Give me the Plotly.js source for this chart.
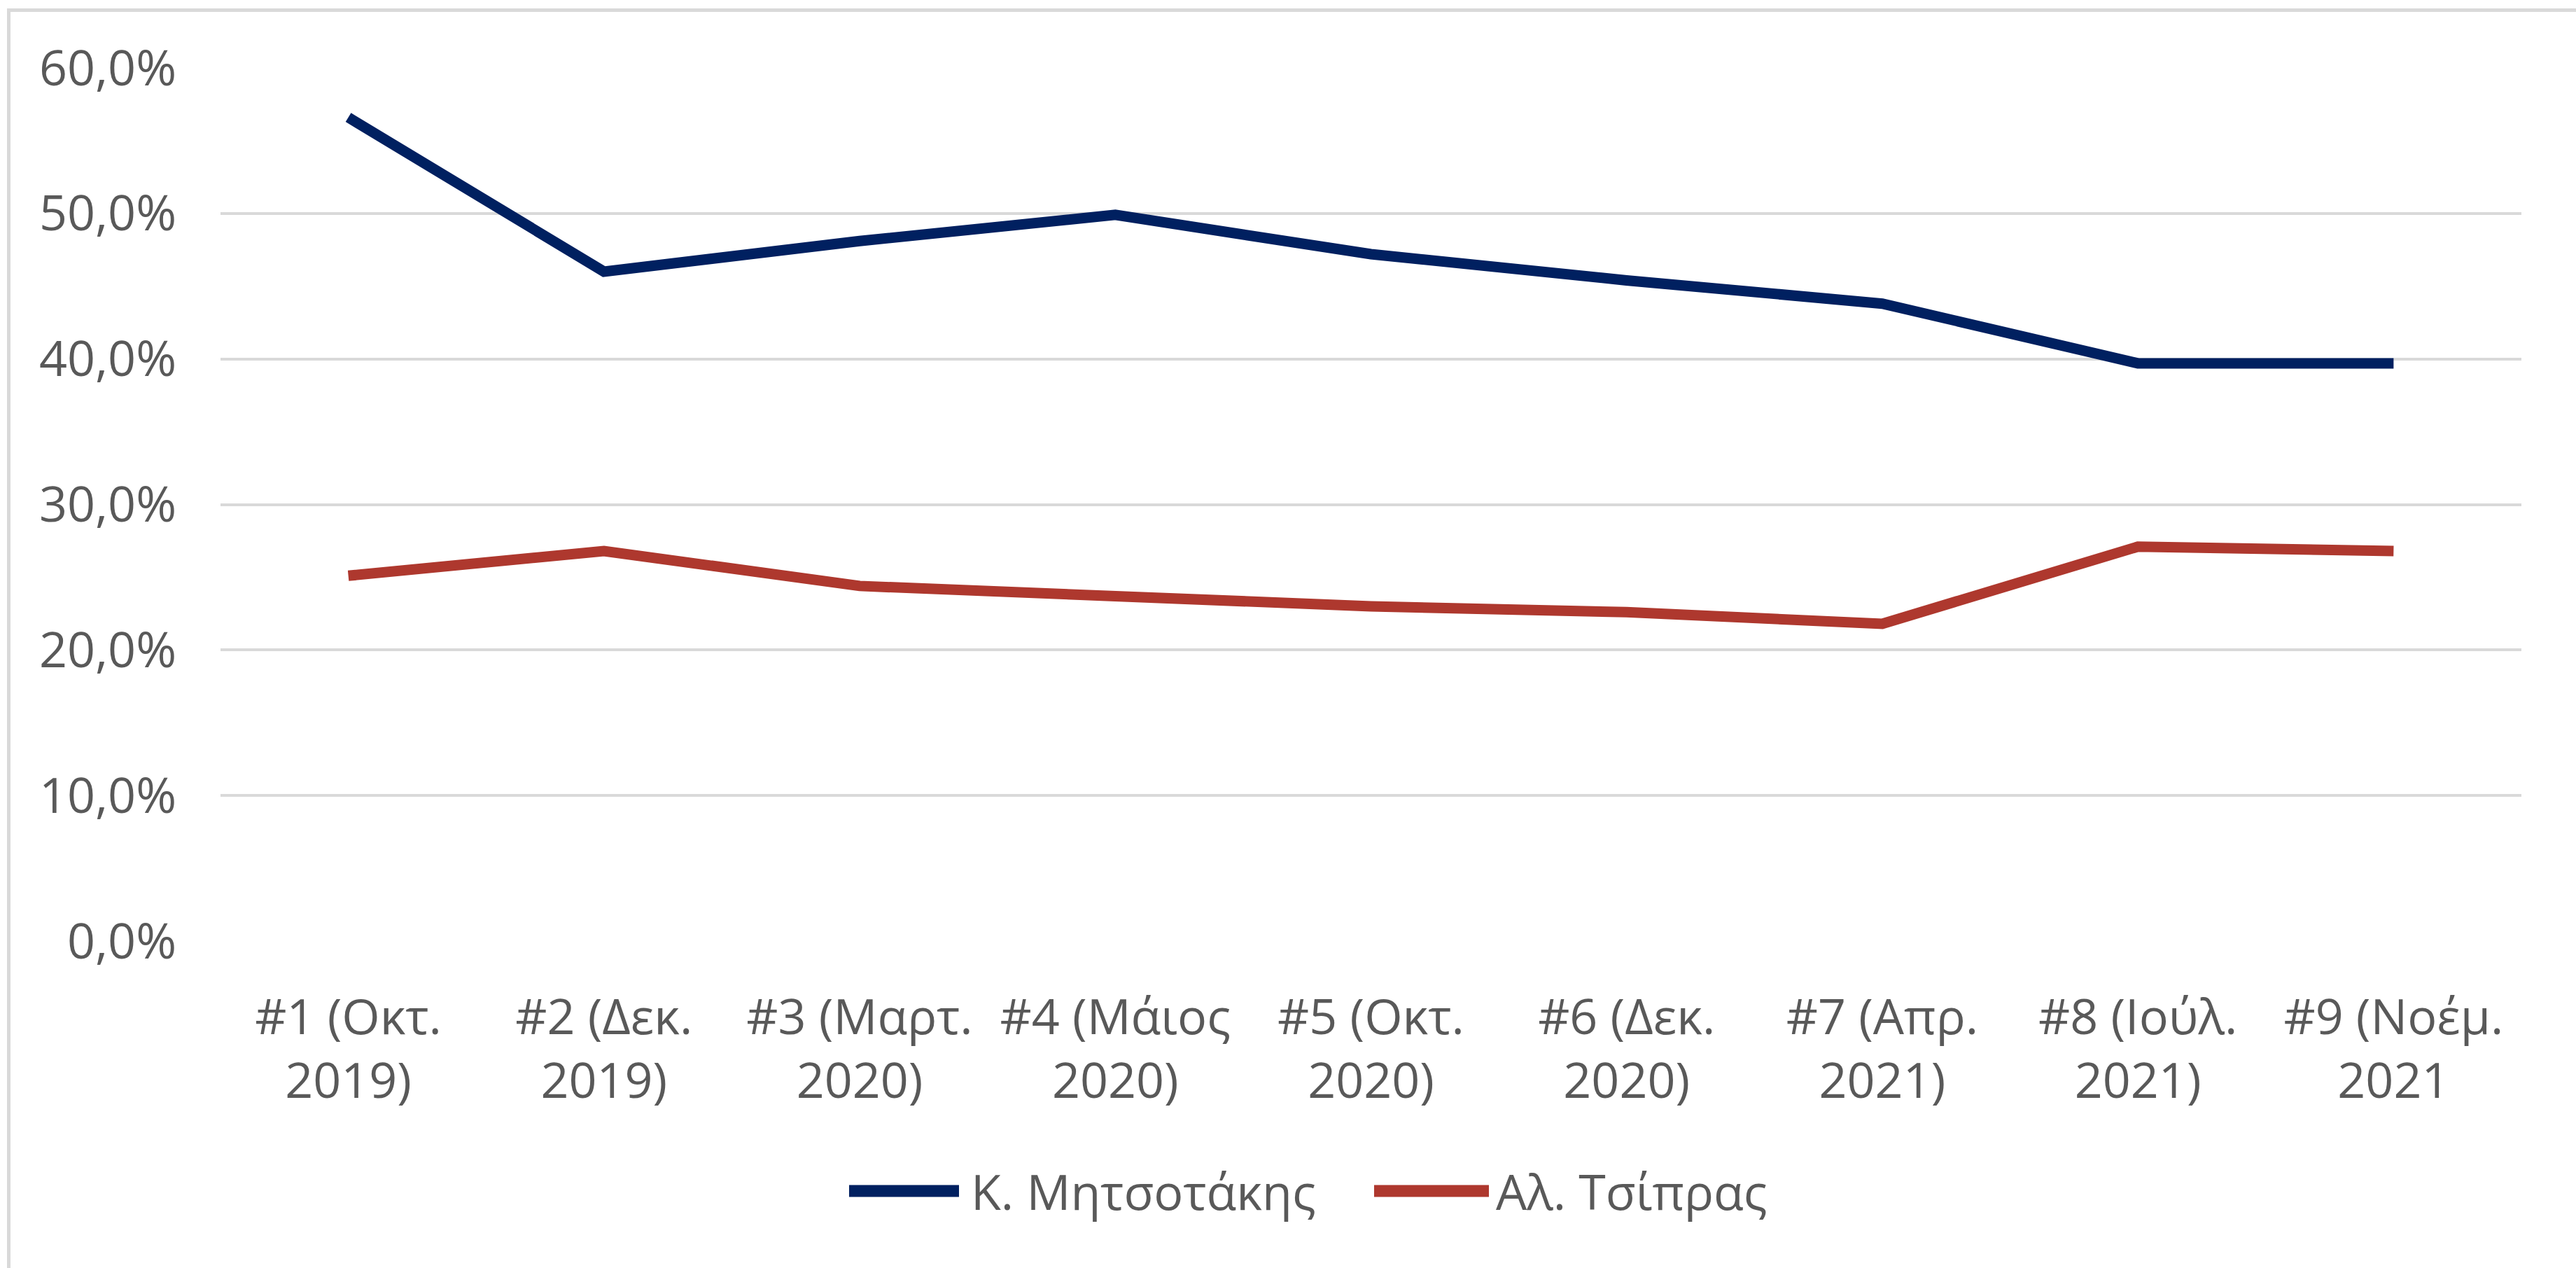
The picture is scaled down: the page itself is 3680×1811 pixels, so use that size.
<!DOCTYPE html>
<html>
<head>
<meta charset="utf-8">
<script src="https://cdn.plot.ly/plotly-3.0.1.min.js"></script>
<style>html,body{margin:0;padding:0;background:#fff;}#chart{width:3680px;height:1811px;}</style>
</head>
<body>
<div id="chart"></div>
<script>
// Data
const categories = ['#1 (Οκτ.<br>2019)', '#2 (Δεκ.<br>2019)', '#3 (Μαρτ.<br>2020)', '#4 (Μάιος<br>2020)', '#5 (Οκτ.<br>2020)', '#6 (Δεκ.<br>2020)', '#7 (Απρ.<br>2021)', '#8 (Ιούλ.<br>2021)', '#9 (Νοέμ.<br>2021'];
const seriesNames = ['Κ. Μητσοτάκης', 'Αλ. Τσίπρας'];
const mitsotakis = [56.6, 46.0, 48.1, 49.9, 47.2, 45.4, 43.8, 39.7, 39.7];
const tsipras = [25.1, 26.8, 24.4, 23.7, 23.0, 22.6, 21.8, 27.1, 26.8];
const yTicks = [0, 10, 20, 30, 40, 50, 60];
const yTickLabels = ['0,0%', '10,0%', '20,0%', '30,0%', '40,0%', '50,0%', '60,0%'];

const colors = ['#002060', '#AE382E'];
const textColor = '#595959';
const fontFamily = '"Open Sans", "Noto Sans", "DejaVu Sans", sans-serif';

const W = 3680, H = 1811;
const mL = 315, mR = 78, mT = 97, mB = 467;
const pw = W - mL - mR, ph = H - mT - mB;
const px = x => (x - mL) / pw;
const py = y => (H - mB - y) / ph;

const traces = [mitsotakis, tsipras].map((vals, i) => ({
  type: 'scatter',
  mode: 'lines',
  x: categories,
  y: vals,
  name: seriesNames[i],
  line: {color: colors[i], width: 15},
  showlegend: false,
  hoverinfo: 'skip'
}));

// custom legend (long swatches like the reference)
const legY = py(1701);
const legendItems = [
  {x0: 1213, x1: 1370, tx: 1386},
  {x0: 1963, x1: 2127, tx: 2136}
];
const shapes = [
  {type: 'rect', xref: 'paper', yref: 'paper', x0: px(12.5), x1: px(3720), y0: py(14.5), y1: py(1850),
   line: {color: '#D9D9D9', width: 5}, fillcolor: 'rgba(0,0,0,0)', layer: 'below'}
];
const annotations = [];
legendItems.forEach((it, i) => {
  shapes.push({type: 'line', xref: 'paper', yref: 'paper', x0: px(it.x0), x1: px(it.x1), y0: legY, y1: legY,
    line: {color: colors[i], width: 17}});
  annotations.push({xref: 'paper', yref: 'paper', x: px(it.tx), y: legY, xanchor: 'left', yanchor: 'middle',
    text: seriesNames[i], showarrow: false, borderpad: 0,
    font: {family: fontFamily, size: 70, color: textColor}});
});

const layout = {
  width: W, height: H,
  margin: {l: mL, r: mR, t: mT, b: mB, pad: 0},
  paper_bgcolor: '#ffffff',
  plot_bgcolor: '#ffffff',
  showlegend: false,
  separators: ',.',
  font: {family: fontFamily, size: 70, color: textColor},
  xaxis: {
    type: 'category',
    categoryarray: categories,
    range: [-0.5, categories.length - 0.5],
    showgrid: false, zeroline: false, showline: false,
    ticks: '', ticklabelstandoff: 62,
    tickfont: {family: fontFamily, size: 70, color: textColor},
    fixedrange: true
  },
  yaxis: {
    range: [0, 60],
    tickmode: 'array',
    tickvals: yTicks,
    ticktext: yTickLabels,
    showgrid: true, gridcolor: '#D9D9D9', gridwidth: 4,
    zeroline: false, showline: false,
    ticks: '', ticklabelstandoff: 62,
    tickfont: {family: fontFamily, size: 70, color: textColor},
    fixedrange: true
  },
  shapes: shapes,
  annotations: annotations
};

Plotly.newPlot('chart', traces, layout, {staticPlot: true, displayModeBar: false});
</script>
</body>
</html>
